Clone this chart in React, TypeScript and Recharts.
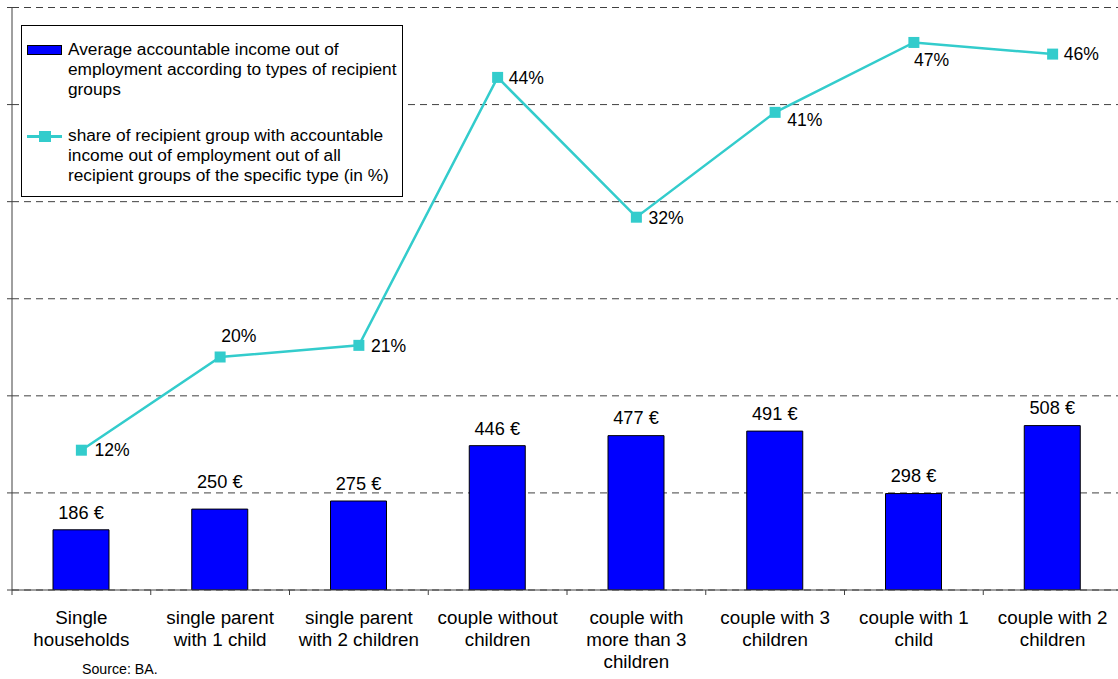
import React from 'react';
import { ComposedChart, Bar, Line, XAxis, YAxis, CartesianGrid, Legend, LabelList } from 'recharts';

const categories = [
  'Single\nhouseholds',
  'single parent\nwith 1 child',
  'single parent\nwith 2 children',
  'couple without\nchildren',
  'couple with\nmore than 3\nchildren',
  'couple with 3\nchildren',
  'couple with 1\nchild',
  'couple with 2\nchildren',
];
const incomeValues = [186, 250, 275, 446, 477, 491, 298, 508];
const shareValues = [12, 20, 21, 44, 32, 41, 47, 46];
const incomeTicks = [0, 300, 600, 900, 1200, 1500, 1800];
const shareDomain = [0, 50];

const incomeLegend = ['Average accountable income out of', 'employment according to types of recipient', 'groups'];
const shareLegend = ['share of recipient group with accountable', 'income out of employment out of all', 'recipient groups of the specific type (in %)'];
const sourceText = 'Source: BA.';

// label placement per point: [dx, dy]
const shareLabelOffsets: [number, number][] = [
  [13, 6], [1, -15], [12, 7], [11, 7], [12, 7], [12, 14], [0, 24], [11, 6],
];
// distance of the bar value label baseline above the bar top
const barLabelLift = [11, 21, 11, 11, 12, 11, 12, 12];

const data = categories.map((name, i) => ({ name, income: incomeValues[i], share: shareValues[i] }));

const FONT = '"Liberation Sans", Arial, Helvetica, sans-serif';
const CYAN = '#33CCCC';
const BLUE = '#0000FF';
const AXIS = '#404040';

const CategoryTick = (props: any) => {
  const { x, y, payload, width, visibleTicksCount } = props;
  const band = width && visibleTicksCount ? width / visibleTicksCount : 138.75;
  const lines = String(payload.value).split('\n');
  return (
    <g>
      <line x1={x - band / 2} x2={x - band / 2} y1={y} y2={y + 5} stroke={AXIS} strokeWidth={1} />
      <text x={x} y={y + 33.5} textAnchor="middle" fontSize={18.8} fill="#000" fontFamily={FONT}>
        {lines.map((l, i) => (
          <tspan key={i} x={x} dy={i === 0 ? 0 : 22}>{l}</tspan>
        ))}
      </text>
    </g>
  );
};

const BarValueLabel = (props: any) => {
  const { x, y, width, value, index } = props;
  const lift = barLabelLift[index] ?? 11;
  return (
    <text x={Number(x) + Number(width) / 2} y={Number(y) - lift} textAnchor="middle" fontSize={18.2} fill="#000" fontFamily={FONT}>
      {`${value} €`}
    </text>
  );
};

const ShareLabel = (props: any) => {
  const { x, y, value, index } = props;
  const off = shareLabelOffsets[index] || [12, 6];
  return (
    <text x={Number(x) + off[0]} y={Number(y) + off[1]} textAnchor="start" fontSize={17.6} fill="#000" fontFamily={FONT}>
      {`${value}%`}
    </text>
  );
};

const SquareDot = (props: any) => {
  const { cx, cy, index } = props;
  if (cx == null || cy == null) return null;
  return <rect key={`dot-${index}`} x={cx - 5.5} y={cy - 5.5} width={11} height={11} fill={CYAN} />;
};

const LegendBox = () => (
  <div
    style={{
      position: 'relative',
      width: 382,
      height: 172,
      boxSizing: 'border-box',
      border: '1px solid #000',
      background: '#fff',
      fontFamily: FONT,
      fontSize: 17.3,
      lineHeight: '20px',
      color: '#000',
    }}
  >
    <div style={{ position: 'absolute', left: 5, top: 19, width: 35, height: 10, background: BLUE, border: '1px solid #000', boxSizing: 'border-box' }} />
    <div style={{ position: 'absolute', left: 46, top: 13.2, whiteSpace: 'nowrap' }}>
      {incomeLegend.map((l, i) => (
        <div key={i}>{l}</div>
      ))}
    </div>
    <div style={{ position: 'absolute', left: 5, top: 108.5, width: 35, height: 3, background: CYAN }} />
    <div style={{ position: 'absolute', left: 16.5, top: 104.5, width: 12, height: 11, background: CYAN }} />
    <div style={{ position: 'absolute', left: 46, top: 99.2, whiteSpace: 'nowrap' }}>
      {shareLegend.map((l, i) => (
        <div key={i}>{l}</div>
      ))}
    </div>
  </div>
);

export default function App() {
  return (
    <div style={{ position: 'absolute', left: 0, top: 0, width: 1118, height: 679, overflow: 'hidden', background: '#fff' }}>
      <ComposedChart
        width={1122}
        height={679}
        data={data}
        margin={{ top: 7.5, right: 0, left: 0, bottom: 0 }}
        style={{ fontFamily: FONT }}
      >
        <CartesianGrid yAxisId="left" vertical={false} stroke={AXIS} strokeDasharray="7 5" />
        <XAxis
          dataKey="name"
          height={89}
          tickSize={0}
          tickMargin={0}
          tickLine={false}
          axisLine={{ stroke: AXIS, strokeWidth: 1 }}
          tick={<CategoryTick />}
          interval={0}
        />
        <YAxis
          yAxisId="left"
          orientation="left"
          width={12}
          domain={[0, 1800]}
          ticks={incomeTicks}
          interval={0}
          tickFormatter={() => ''}
          tickSize={5}
          tickMargin={0}
          tickLine={{ stroke: AXIS }}
          axisLine={{ stroke: AXIS, strokeWidth: 1 }}
          allowDataOverflow
        />
        <YAxis yAxisId="right" orientation="right" domain={shareDomain} hide allowDataOverflow />
        <Legend
          layout="vertical"
          align="center"
          verticalAlign="middle"
          content={<LegendBox />}
          wrapperStyle={{ left: 21, top: 25, width: 382, height: 172 }}
        />
        <Bar yAxisId="left" dataKey="income" fill={BLUE} stroke="#000" strokeWidth={1} barSize={56} isAnimationActive={false}>
          <LabelList dataKey="income" content={BarValueLabel} />
        </Bar>
        <Line
          yAxisId="right"
          dataKey="share"
          type="linear"
          stroke={CYAN}
          strokeWidth={2.5}
          dot={SquareDot}
          activeDot={false}
          isAnimationActive={false}
        >
          <LabelList dataKey="share" content={ShareLabel} />
        </Line>
      </ComposedChart>
      <div style={{ position: 'absolute', left: 82, top: 662.2, fontFamily: FONT, fontSize: 14.2, lineHeight: '14px', color: '#000', whiteSpace: 'nowrap' }}>
        {sourceText}
      </div>
    </div>
  );
}
